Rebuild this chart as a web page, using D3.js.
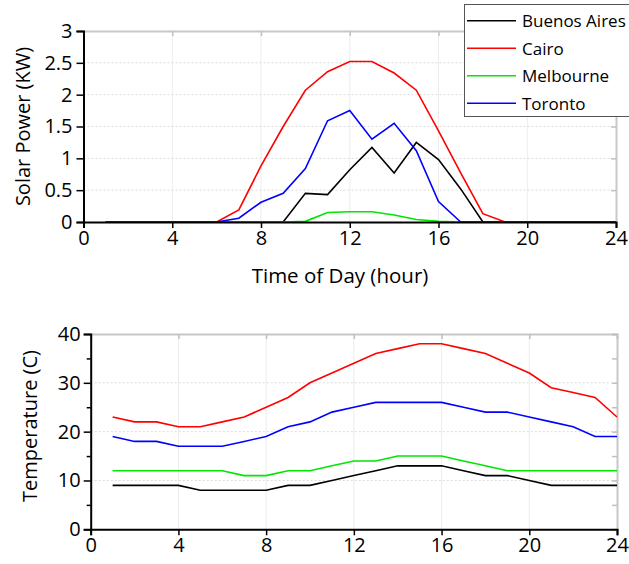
<!DOCTYPE html>
<html>
<head>
<meta charset="utf-8">
<script src="https://cdn.jsdelivr.net/npm/d3@7"></script>
<style>
  body { margin: 0; background: #fff; }
  svg { display: block; font-family: "Open Sans", sans-serif; }
</style>
</head>
<body>
<svg id="chart" width="629" height="564"></svg>
<script>
// hours of the day the values were logged
var hours = [1, 2, 3, 4, 5, 6, 7, 8, 9, 10, 11, 12, 13, 14, 15, 16, 17, 18, 19, 20, 21, 22, 23, 24];

var cities = ["Buenos Aires", "Cairo", "Melbourne", "Toronto"];
var cityColors = ["#000000", "#ff0000", "#00e600", "#0000ff"];

// solar power (KW) per hour
var powerBuenosAires = [0, 0, 0, 0, 0, 0, 0, 0, 0, 0.45, 0.43, 0.82, 1.17, 0.77, 1.25, 0.98, 0.52, 0, 0, 0, 0, 0, 0, 0];
var powerCairo       = [0, 0, 0, 0, 0, 0, 0.19, 0.88, 1.50, 2.07, 2.36, 2.52, 2.52, 2.34, 2.07, 1.43, 0.77, 0.13, 0, 0, 0, 0, 0, 0];
var powerMelbourne   = [0, 0, 0, 0, 0, 0, 0, 0, 0, 0.01, 0.15, 0.16, 0.16, 0.11, 0.04, 0.01, 0, 0, 0, 0, 0, 0, 0, 0];
var powerToronto     = [0, 0, 0, 0, 0, 0, 0.06, 0.31, 0.45, 0.84, 1.59, 1.75, 1.30, 1.55, 1.12, 0.32, 0, 0, 0, 0, 0, 0, 0, 0];

// temperature (C) per hour
var tempBuenosAires = [9, 9, 9, 9, 8, 8, 8, 8, 9, 9, 10, 11, 12, 13, 13, 13, 12, 11, 11, 10, 9, 9, 9, 9];
var tempCairo       = [23, 22, 22, 21, 21, 22, 23, 25, 27, 30, 32, 34, 36, 37, 38, 38, 37, 36, 34, 32, 29, 28, 27, 23];
var tempMelbourne   = [12, 12, 12, 12, 12, 12, 11, 11, 12, 12, 13, 14, 14, 15, 15, 15, 14, 13, 12, 12, 12, 12, 12, 12];
var tempToronto     = [19, 18, 18, 17, 17, 17, 18, 19, 21, 22, 24, 25, 26, 26, 26, 26, 25, 24, 24, 23, 22, 21, 19, 19];

var hourTicks = [0, 4, 8, 12, 16, 20, 24];
var powerTicks = [0, 0.5, 1, 1.5, 2, 2.5, 3];
var tempTicks = [0, 10, 20, 30, 40];
var tempMinorTicks = [5, 15, 25, 35];

var svg = d3.select("#chart");

function drawPanel(p) {
  var x = d3.scaleLinear().domain([0, 24]).range([p.left, p.right]);
  var y = d3.scaleLinear().domain([0, p.ymax]).range([p.bottom, p.top]);
  var g = svg.append("g");

  // grid lines
  g.selectAll(".vgrid")
    .data(hourTicks.slice(1, -1))
    .enter().append("line")
    .attr("x1", x).attr("x2", x)
    .attr("y1", p.top).attr("y2", p.bottom)
    .attr("stroke", "#ececec").attr("stroke-width", 1);

  g.selectAll(".hgrid")
    .data(p.yticks.slice(1, -1))
    .enter().append("line")
    .attr("x1", p.left).attr("x2", p.right)
    .attr("y1", y).attr("y2", y)
    .attr("stroke", "#dcdcdc").attr("stroke-width", 1)
    .attr("stroke-dasharray", "2,2");

  // grey frame on top and right, ticks pointing in
  var topAxis = g.append("g")
    .attr("transform", "translate(0," + p.top + ")")
    .call(d3.axisTop(x).tickValues(hourTicks).tickSize(-5).tickFormat(""));
  var rightAxis = g.append("g")
    .attr("transform", "translate(" + p.right + ",0)")
    .call(d3.axisRight(y).tickValues(p.rightTicks).tickSize(-5).tickFormat(""));
  [topAxis, rightAxis].forEach(function(a) {
    a.selectAll("path").attr("stroke", "#c8c8c8").attr("stroke-width", 2);
    a.selectAll("line").attr("stroke", "#c0c0c0").attr("stroke-width", 1.5);
  });

  // data lines
  var line = d3.line()
    .x(function(d, i) { return x(hours[i]); })
    .y(function(d) { return y(d); });

  p.series.forEach(function(s, i) {
    g.append("path")
      .attr("d", line(s))
      .attr("fill", "none")
      .attr("stroke", cityColors[i])
      .attr("stroke-width", 1.6);
  });

  // black left and bottom axes
  var bottomAxis = g.append("g")
    .attr("transform", "translate(0," + p.bottom + ")")
    .call(d3.axisBottom(x).tickValues(hourTicks).tickSize(6).tickPadding(3).tickFormat(d3.format("d")));
  var leftAxis = g.append("g")
    .attr("transform", "translate(" + p.left + ",0)")
    .call(d3.axisLeft(y).tickValues(p.yticks).tickSize(7).tickPadding(p.labelPad).tickFormat(d3.format("~g")));

  if (p.minorTicks) {
    g.append("g")
      .attr("transform", "translate(" + p.left + ",0)")
      .call(d3.axisLeft(y).tickValues(p.minorTicks).tickSize(4).tickFormat(""))
      .call(function(a) {
        a.select("path").remove();
        a.selectAll("line").attr("stroke", "#000").attr("stroke-width", 1.5);
      });
  }

  [bottomAxis, leftAxis].forEach(function(a) {
    a.attr("color", "#000");
    a.selectAll("path").attr("stroke-width", 2);
    a.selectAll("line").attr("stroke-width", 1.5);
    a.selectAll("text").attr("font-size", 20).attr("font-family", "Open Sans, sans-serif");
  });

  // y axis title
  g.append("text")
    .attr("transform", "translate(" + p.ylabelX + "," + p.ylabelY + ") rotate(-90)")
    .attr("text-anchor", "middle")
    .attr("dominant-baseline", "central")
    .attr("font-size", 20)
    .text(p.ylabel);

  if (p.xlabel) {
    g.append("text")
      .attr("x", p.xlabelX)
      .attr("y", p.xlabelY)
      .attr("text-anchor", "middle")
      .attr("font-size", 20.5)
      .text(p.xlabel);
  }
}

drawPanel({
  left: 83.5, right: 616, top: 31, bottom: 222,
  ymax: 3, yticks: powerTicks, rightTicks: powerTicks, labelPad: 4,
  series: [powerBuenosAires, powerCairo, powerMelbourne, powerToronto],
  ylabel: "Solar Power (KW)", ylabelX: 22, ylabelY: 126.5,
  xlabel: "Time of Day (hour)", xlabelX: 340, xlabelY: 283
});

drawPanel({
  left: 90.7, right: 617, top: 334, bottom: 529.3,
  ymax: 40, yticks: tempTicks, rightTicks: [0, 5, 10, 15, 20, 25, 30, 35, 40], labelPad: 3,
  minorTicks: tempMinorTicks,
  series: [tempBuenosAires, tempCairo, tempMelbourne, tempToronto],
  ylabel: "Temperature (C)", ylabelX: 29, ylabelY: 426
});

// legend box, runs off the right edge
var legend = svg.append("g");
legend.append("rect")
  .attr("x", 464.5).attr("y", 4.5)
  .attr("width", 200).attr("height", 112)
  .attr("fill", "#fff").attr("stroke", "#555").attr("stroke-width", 1);

var legendY = d3.scalePoint().domain(cities).range([20.7, 103.3]);

cities.forEach(function(c, i) {
  legend.append("line")
    .attr("x1", 467).attr("x2", 516)
    .attr("y1", legendY(c)).attr("y2", legendY(c))
    .attr("stroke", cityColors[i]).attr("stroke-width", 1.6);
  legend.append("text")
    .attr("x", 522).attr("y", legendY(c))
    .attr("dominant-baseline", "central")
    .attr("font-size", 17)
    .text(c);
});
</script>
</body>
</html>
